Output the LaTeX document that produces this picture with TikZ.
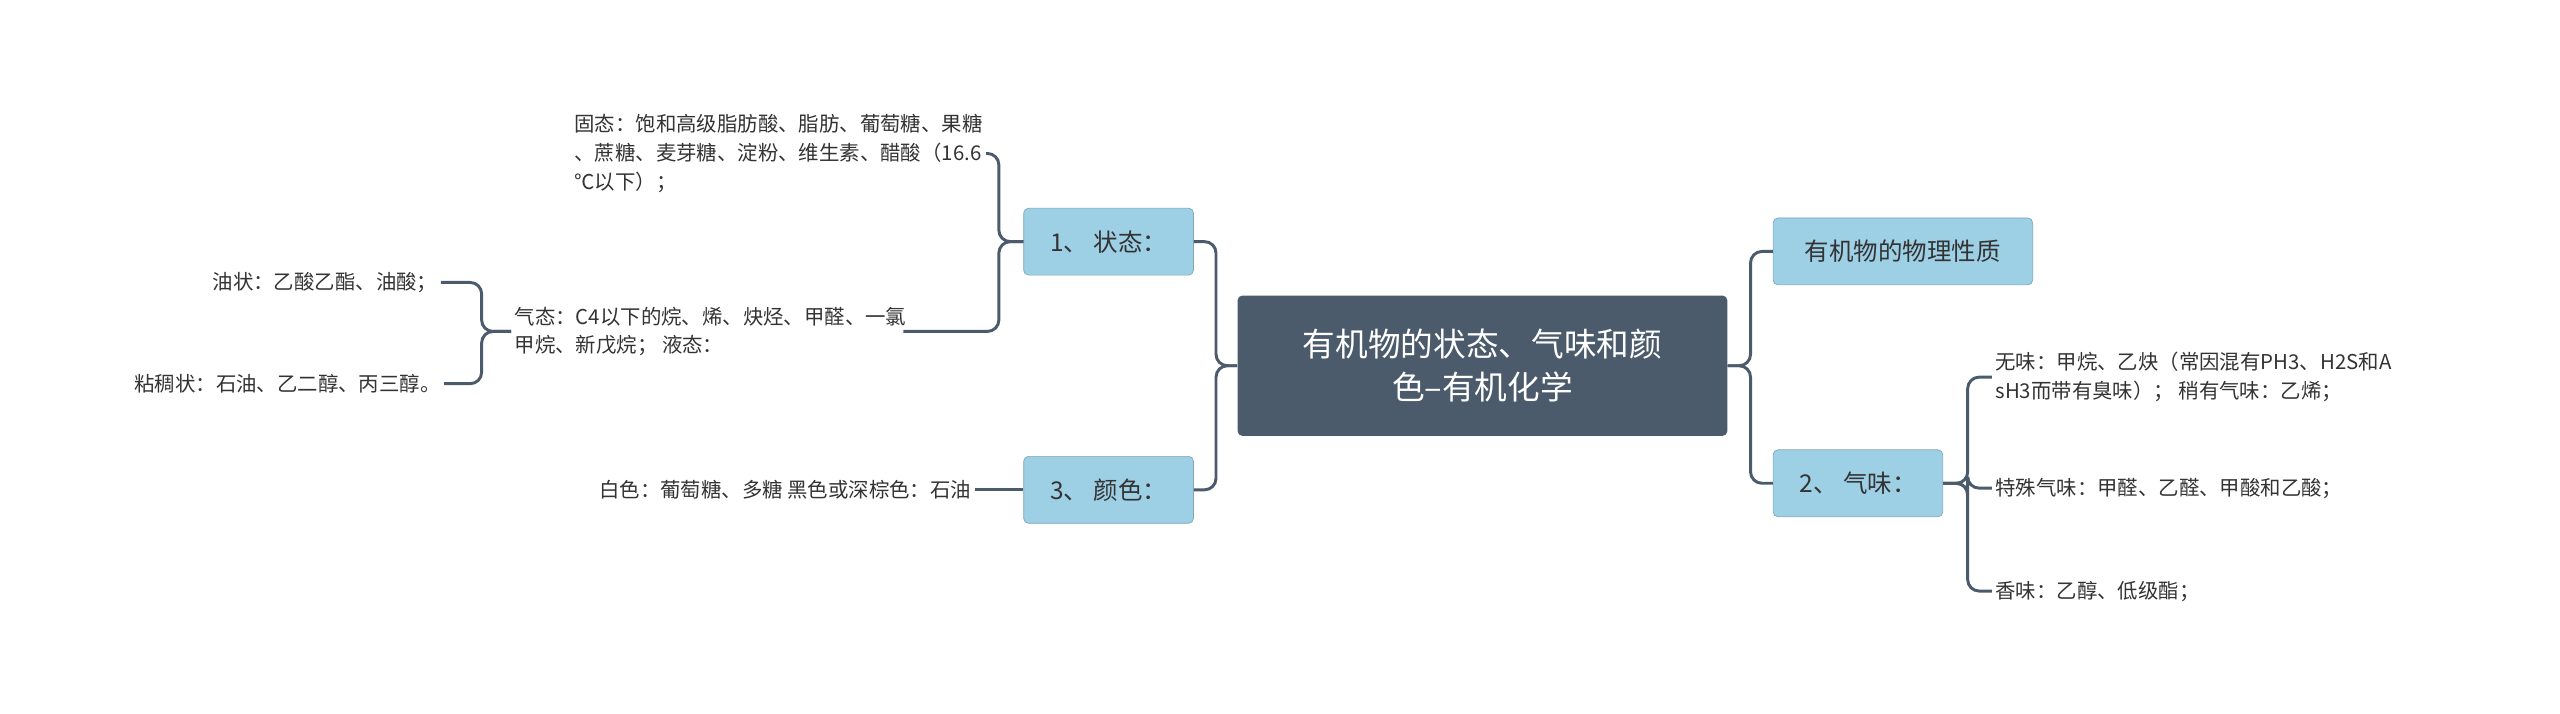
\documentclass[tikz,border=0pt]{standalone}
\usepackage{fontspec}
\setmainfont{Noto Sans CJK SC}
\definecolor{dark}{HTML}{4B5B6B}
\definecolor{lb}{HTML}{9DCFE5}
\definecolor{txt}{HTML}{333333}
\begin{document}
\begin{tikzpicture}[x=1pt,y=-1pt,
  conn/.style={draw=dark,line width=1.8pt,rounded corners=7pt},
  main/.style={fill=dark,text=white,rounded corners=3pt,font=\fontsize{20}{26}\selectfont,align=center,minimum width=300pt,minimum height=86pt,inner sep=0pt},
  sub/.style={fill=lb,draw=lb!80!black,line width=0.4pt,text=txt,rounded corners=3pt,font=\fontsize{15}{18}\selectfont,minimum height=41pt,inner sep=8pt},
  leaf/.style={text=txt,font=\fontsize{12.5}{17.5}\selectfont,inner sep=2pt}]
\useasboundingbox (0,0) rectangle (1568,437);
\node[main] (c) at (908,224) {有机物的状态、气味和颜\\色--有机化学};
\node[sub,minimum width=159pt] (p) at (1165.5,154) {有机物的物理性质};
\node[sub,minimum width=104pt] (s2) at (1138,296) {2、 气味：};
\node[sub,minimum width=104pt] (s1) at (679,148) {1、 状态：};
\node[sub,minimum width=104pt] (s3) at (679,300) {3、 颜色：};
\node[leaf,anchor=east,align=left] (gu) at (604,94) {固态：饱和高级脂肪酸、脂肪、葡萄糖、果糖\\、蔗糖、麦芽糖、淀粉、维生素、醋酸（16.6\\℃以下）；};
\node[leaf,anchor=west,align=left] (qi) at (313,203) {气态：C4以下的烷、烯、炔烃、甲醛、一氯\\甲烷、新戊烷； 液态：};
\node[leaf,anchor=east] (you) at (270,173) {油状：乙酸乙酯、油酸；};
\node[leaf,anchor=east] (nian) at (272,235) {粘稠状：石油、乙二醇、丙三醇。};
\node[leaf,anchor=east] (bai) at (597,300) {白色：葡萄糖、多糖 黑色或深棕色：石油};
\node[leaf,anchor=west,align=left] (wu) at (1220,231) {无味：甲烷、乙炔（常因混有PH3、H2S和A\\sH3而带有臭味）； 稍有气味：乙烯；};
\node[leaf,anchor=west] (te) at (1220,299) {特殊气味：甲醛、乙醛、甲酸和乙酸；};
\node[leaf,anchor=west] (xiang) at (1220,362) {香味：乙醇、低级酯；};
\draw[conn] (c.west) -- ++(-13,0) |- (s1.east);
\draw[conn] (c.west) -- ++(-13,0) |- (s3.east);
\draw[conn] (c.east) -- ++(14,0) |- (p.west);
\draw[conn] (c.east) -- ++(14,0) |- (s2.west);
\draw[conn] (s1.west) -- ++(-15,0) |- (gu.east);
\draw[conn] (s1.west) -- ++(-15,0) |- ([xshift=-4pt]qi.east);
\draw[conn] (qi.west) -- ++(-18,0) |- (you.east);
\draw[conn] (qi.west) -- ++(-18,0) |- (nian.east);
\draw[conn] (s3.west) -- (bai.east);
\draw[conn] (s2.east) -- ++(15,0) |- (wu.west);
\draw[conn] (s2.east) -- ++(15,0) |- (te.west);
\draw[conn] (s2.east) -- ++(15,0) |- (xiang.west);
\end{tikzpicture}
\end{document}
